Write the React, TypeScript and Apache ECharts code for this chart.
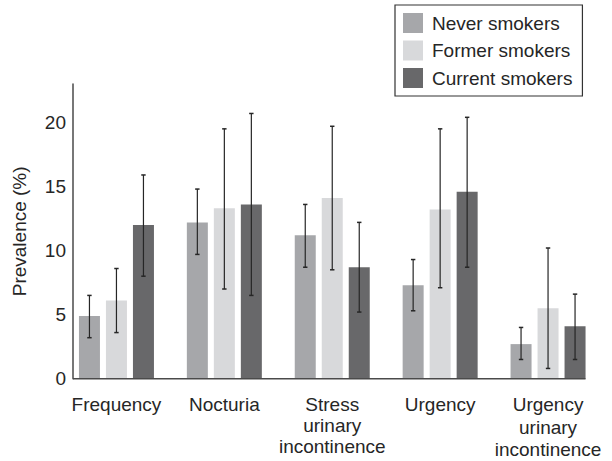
import React, { useEffect, useRef } from "react";
import * as echarts from "echarts";

const categories = [
  "Frequency",
  "Nocturia",
  "Stress\nurinary\nincontinence",
  "Urgency",
  "Urgency\nurinary\nincontinence",
];
const seriesNames = ["Never smokers", "Former smokers", "Current smokers"];

const neverValues = [4.9, 12.2, 11.2, 7.3, 2.7];
const neverLow = [3.2, 9.7, 8.7, 5.3, 1.5];
const neverHigh = [6.5, 14.8, 13.6, 9.3, 4.0];

const formerValues = [6.1, 13.3, 14.1, 13.2, 5.5];
const formerLow = [3.6, 7.0, 8.5, 7.1, 0.8];
const formerHigh = [8.6, 19.5, 19.7, 19.5, 10.2];

const currentValues = [12.0, 13.6, 8.7, 14.6, 4.1];
const currentLow = [8.0, 6.5, 5.2, 8.7, 1.5];
const currentHigh = [15.9, 20.7, 12.2, 20.4, 6.6];

const yTickValues = [0, 5, 10, 15, 20];

const colors = ["#a6a7aa", "#d8d9db", "#68686a"];
const FONT = "'Liberation Sans', Arial, sans-serif";
const FONT_SIZE = 19;
const TEXT_COLOR = "#262626";
const AXIS_COLOR = "#4a4a4a";

const GRID_LEFT = 62.5;
const GRID_RIGHT = 10;
const GRID_TOP = 84;
const GRID_BOTTOM = 82.3;
const AXIS_INSET = 10.5;
const BAR_W = 21;
const BAR_GAP = 6;
const GROUP_HALF = (3 * BAR_W + 2 * BAR_GAP) / 2;

export default function App() {
  const ref = useRef<HTMLDivElement>(null);

  useEffect(() => {
    document.body.style.margin = "0";
    if (!ref.current) return;
    const chart = echarts.init(ref.current, undefined, { renderer: "svg" });

    const values = [neverValues, formerValues, currentValues];
    const lows = [neverLow, formerLow, currentLow];
    const highs = [neverHigh, formerHigh, currentHigh];

    const barSeries = values.map((vals, si) => ({
      name: seriesNames[si],
      type: "bar",
      data: vals,
      barWidth: BAR_W,
      barGap: (BAR_GAP / BAR_W) * 100 + "%",
      itemStyle: { color: colors[si] },
      z: 2,
    }));

    const errSeries = values.map((_, si) => ({
      name: seriesNames[si] + " CI",
      type: "custom",
      z: 5,
      data: categories.map((_, i) => [i, lows[si][i], highs[si][i]]),
      encode: { x: 0, y: [1, 2] },
      renderItem: (params: any, api: any) => {
        const offset = (si - 1) * (BAR_W + BAR_GAP);
        const idx = api.value(0);
        const lo = api.coord([idx, api.value(1)]);
        const hi = api.coord([idx, api.value(2)]);
        const x = lo[0] + offset;
        const cap = 2.2;
        const style = { stroke: "#262626", lineWidth: 1.2 };
        return {
          type: "group",
          children: [
            { type: "line", shape: { x1: x, y1: hi[1], x2: x, y2: lo[1] }, style },
            { type: "line", shape: { x1: x - cap, y1: hi[1], x2: x + cap, y2: hi[1] }, style: { ...style, lineWidth: 1.5 } },
            { type: "line", shape: { x1: x - cap, y1: lo[1], x2: x + cap, y2: lo[1] }, style: { ...style, lineWidth: 1.5 } },
          ],
        };
      },
    }));

    const categoryData = categories.map((c, i) =>
      i === categories.length - 1 ? { value: c, textStyle: { lineHeight: 22.3 } } : c
    );

    chart.setOption({
      animation: false,
      grid: {
        left: GRID_LEFT,
        right: GRID_RIGHT,
        top: GRID_TOP,
        bottom: GRID_BOTTOM,
        containLabel: false,
        outerBoundsMode: "none",
      },
      legend: {
        orient: "vertical",
        left: 395,
        top: 5,
        data: seriesNames,
        itemWidth: 20,
        itemHeight: 20,
        itemGap: 7.5,
        padding: [8, 10, 8, 8],
        borderColor: "#333",
        borderWidth: 1.2,
        icon: "rect",
        selectedMode: false,
        textStyle: {
          fontFamily: FONT,
          fontSize: FONT_SIZE,
          color: TEXT_COLOR,
          padding: [0, 0, 0, 4],
        },
      },
      xAxis: {
        type: "category",
        data: categoryData,
        axisLine: { show: false },
        axisTick: { show: false },
        axisLabel: {
          interval: 0,
          margin: 15,
          fontFamily: FONT,
          fontSize: FONT_SIZE,
          lineHeight: 21,
          color: TEXT_COLOR,
        },
      },
      yAxis: {
        type: "value",
        min: 0,
        max: 23,
        interval: 5,
        offset: -AXIS_INSET,
        name: "Prevalence (%)",
        nameLocation: "middle",
        nameGap: 44,
        nameTextStyle: { fontFamily: FONT, fontSize: FONT_SIZE, color: TEXT_COLOR },
        axisLine: { show: true, lineStyle: { color: AXIS_COLOR, width: 1.5 } },
        axisTick: { show: false },
        splitLine: { show: false },
        axisLabel: {
          showMaxLabel: false,
          margin: 7,
          fontFamily: FONT,
          fontSize: FONT_SIZE,
          color: TEXT_COLOR,
          formatter: (v: number) => (yTickValues.includes(v) ? String(v) : ""),
        },
      },
      series: [...barSeries, ...errSeries],
    });

    const y0 = chart.convertToPixel({ yAxisIndex: 0 }, 0) as number;
    const xLast = chart.convertToPixel({ xAxisIndex: 0 }, categories.length - 1) as number;
    chart.setOption({
      graphic: [
        {
          type: "line",
          z: 10,
          shape: { x1: GRID_LEFT + AXIS_INSET, y1: y0, x2: xLast + GROUP_HALF, y2: y0 },
          style: { stroke: AXIS_COLOR, lineWidth: 1.5 },
        },
      ],
    });

    return () => chart.dispose();
  }, []);

  return <div ref={ref} style={{ width: 612, height: 461 }} />;
}
